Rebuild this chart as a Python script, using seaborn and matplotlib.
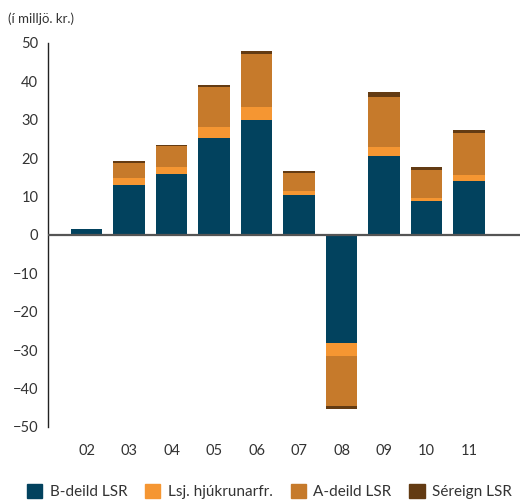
import matplotlib
matplotlib.use("Agg")
import matplotlib.pyplot as plt
import matplotlib.patches as mpatches
import numpy as np
import pandas as pd
import seaborn as sns

# data (ma. kr.)
years = ["02", "03", "04", "05", "06", "07", "08", "09", "10", "11"]
b_deild = [1.5, 13.0, 15.9, 25.3, 29.8, 10.4, -28.2, 20.6, 8.9, 14.1]
lsj_hjukr = [0.0, 1.9, 1.9, 2.9, 3.6, 1.1, -3.4, 2.4, 0.8, 1.6]
a_deild = [0.0, 3.9, 5.4, 10.4, 13.6, 4.7, -13.0, 13.0, 7.3, 10.7]
sereign = [0.0, 0.5, 0.3, 0.3, 0.8, 0.3, -0.8, 1.1, 0.8, 0.8]

series = ["B-deild LSR", "Lsj. hjúkrunarfr.", "A-deild LSR", "Séreign LSR"]
colors = ["#02425E", "#F59632", "#C67A2B", "#633B13"]

sns.set_style("white")
plt.rcParams["font.family"] = ["Lato", "DejaVu Sans"]

df = pd.DataFrame({"year": years, series[0]: b_deild, series[1]: lsj_hjukr,
                   series[2]: a_deild, series[3]: sereign})
cum = df[series].cumsum(axis=1)

fig = plt.figure(figsize=(5.2, 5.04), dpi=100)
ax = fig.add_axes([0.0923, 0.153, 0.9077, 0.762])

# draw cumulative totals from the top layer down so each stack shows correctly
for name, col in reversed(list(zip(series, colors))):
    sns.barplot(x=df["year"], y=cum[name], color=col, width=0.74,
                order=years, saturation=1, ax=ax, linewidth=0)

ax.axhline(0, color="#555555", lw=1.6, zorder=5)
ax.set_xlim(-0.91, 10.2)
ax.set_ylim(-50, 50)
ax.set_yticks(np.arange(-50, 51, 10))
ax.set_xlabel("")
ax.set_ylabel("")

for s in ["top", "right", "bottom"]:
    ax.spines[s].set_visible(False)
ax.spines["left"].set_color("#222222")
ax.spines["left"].set_linewidth(1.0)

ax.tick_params(axis="y", direction="in", length=8, width=1.0, color="#222222",
               pad=7, labelsize=10.5, labelcolor="#333333")
ax.tick_params(axis="x", length=0, pad=12, labelsize=10.5, labelcolor="#333333")

fig.text(0.015, 0.962, "(í milljö. kr.)", fontsize=9.5, color="#333333",
         va="center", ha="left")

handles = [mpatches.Patch(color=c, label=n) for n, c in zip(series, colors)]
fig.legend(handles=handles, loc="center left", bbox_to_anchor=(0.052, 0.024), ncol=4,
           frameon=False, fontsize=11, handlelength=1.0, handleheight=1.0,
           handletextpad=0.5, columnspacing=1.15, borderpad=0, borderaxespad=0,
           labelcolor="#333333")

fig.savefig("out.png", dpi=100)
